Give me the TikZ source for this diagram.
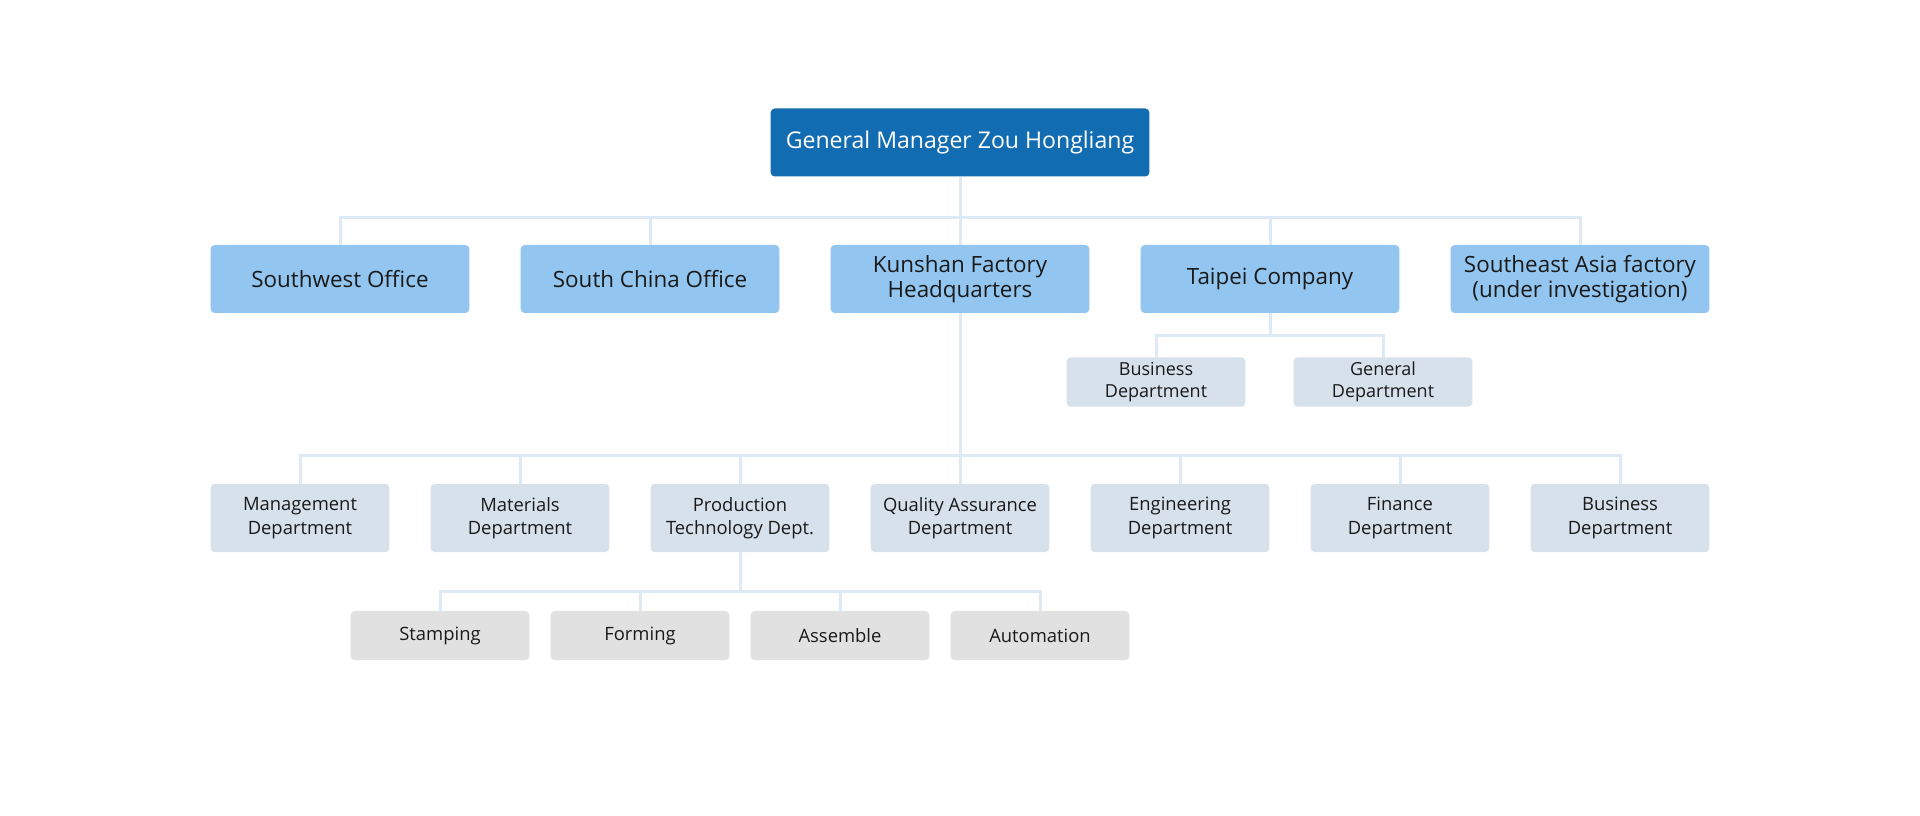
\documentclass[tikz,border=0pt]{standalone}
\usepackage{fontspec}
\setmainfont{Open Sans}
\definecolor{gmblue}{HTML}{126CB2}
\definecolor{officeblue}{HTML}{92C6F0}
\definecolor{deptgray}{HTML}{D6E1EB}
\definecolor{unitgray}{HTML}{E1E1E1}
\definecolor{linkblue}{HTML}{DDE9F4}
\definecolor{inkdark}{HTML}{1A1A1A}
\tikzset{
  box/.style={rounded corners=3pt, inner sep=0pt, align=center, text=inkdark},
  gmbox/.style={box, fill=gmblue, text=white, minimum width=284pt, minimum height=51pt, font=\fontsize{17.3}{19}\selectfont},
  officebox/.style={box, fill=officeblue, minimum width=194pt, minimum height=51pt, font=\fontsize{16.8}{18.4}\selectfont},
  deptbox/.style={box, fill=deptgray, minimum width=134pt, minimum height=51pt, font=\fontsize{13.8}{17.5}\selectfont},
  subbox/.style={box, fill=deptgray, minimum width=134pt, minimum height=37pt, font=\fontsize{13.5}{16.5}\selectfont},
  unitbox/.style={box, fill=unitgray, minimum width=134pt, minimum height=37pt, font=\fontsize{13.8}{16}\selectfont},
  link/.style={linkblue, line width=2.25pt},
}
\begin{document}
\begin{tikzpicture}[x=0.75pt, y=-0.75pt]
  \useasboundingbox[fill=white] (0,0) rectangle (1920,816);
  % top
  \node[gmbox] (gm) at (960,142.5) {General Manager Zou Hongliang};
  % offices
  \node[officebox] (sw) at (340,279) {Southwest Office};
  \node[officebox] (sc) at (650,279) {South China Office};
  \node[officebox] (ks) at (960,279) {Kunshan Factory\\Headquarters};
  \node[officebox] (tp) at (1270,279) {Taipei Company};
  \node[officebox] (sea) at (1580,279) {Southeast Asia factory\\(under investigation)};
  % taipei departments
  \node[subbox] (tpbiz) at (1156,382) {Business\\Department};
  \node[subbox] (tpgen) at (1383,382) {General\\Department};
  % kunshan departments
  \node[deptbox] (mgt) at (300,518) {Management\\Department};
  \node[deptbox] (mat) at (520,518) {Materials\\Department};
  \node[deptbox] (prod) at (740,518) {Production\\Technology Dept.};
  \node[deptbox] (qa) at (960,518) {Quality Assurance\\Department};
  \node[deptbox] (eng) at (1180,518) {Engineering\\Department};
  \node[deptbox] (fin) at (1400,518) {Finance\\Department};
  \node[deptbox] (biz) at (1620,518) {Business\\Department};
  % production units
  \node[unitbox] (stamp) at (440,635.5) {Stamping};
  \node[unitbox] (form) at (640,635.5) {Forming};
  \node[unitbox] (asm) at (840,635.5) {Assemble};
  \node[unitbox] (auto) at (1040,635.5) {Automation};
  % connectors
  \draw[link] (gm.south) -- ++(0,41) -| (sw.north);
  \draw[link] (gm.south) -- ++(0,41) -| (sc.north);
  \draw[link] (gm.south) -- (ks.north);
  \draw[link] (gm.south) -- ++(0,41) -| (tp.north);
  \draw[link] (gm.south) -- ++(0,41) -| (sea.north);
  \draw[link] (tp.south) -- ++(0,22) -| (tpbiz.north);
  \draw[link] (tp.south) -- ++(0,22) -| (tpgen.north);
  \draw[link] (ks.south) -- ++(0,142) -| (mgt.north);
  \draw[link] (ks.south) -- ++(0,142) -| (mat.north);
  \draw[link] (ks.south) -- ++(0,142) -| (prod.north);
  \draw[link] (ks.south) -- (qa.north);
  \draw[link] (ks.south) -- ++(0,142) -| (eng.north);
  \draw[link] (ks.south) -- ++(0,142) -| (fin.north);
  \draw[link] (ks.south) -- ++(0,142) -| (biz.north);
  \draw[link] (prod.south) -- ++(0,39) -| (stamp.north);
  \draw[link] (prod.south) -- ++(0,39) -| (form.north);
  \draw[link] (prod.south) -- ++(0,39) -| (asm.north);
  \draw[link] (prod.south) -- ++(0,39) -| (auto.north);
\end{tikzpicture}
\end{document}
